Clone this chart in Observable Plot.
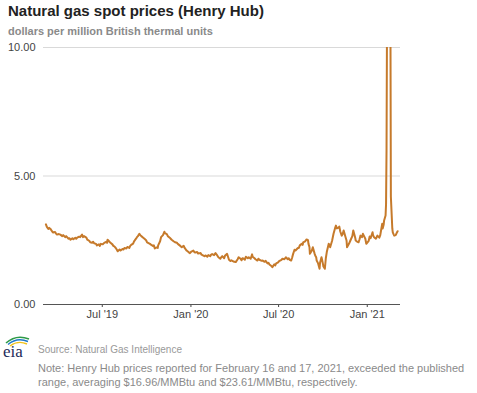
<!DOCTYPE html>
<html>
<head>
<meta charset="utf-8">
<script src="https://cdn.jsdelivr.net/npm/d3@7"></script>
<script src="https://cdn.jsdelivr.net/npm/@observablehq/plot@0.6"></script>
<style>
  body { margin: 0; background: #fff; font-family: "Liberation Sans", Arial, sans-serif; width: 477px; height: 393px; position: relative; overflow: hidden; }
  #title { position: absolute; left: 8px; top: 2px; font-size: 15px; font-weight: bold; color: #222; white-space: nowrap; }
  #subtitle { position: absolute; left: 8px; top: 25px; font-size: 11px; font-weight: bold; color: #8a8a8a; white-space: nowrap; }
  #chart { position: absolute; left: 0; top: 40px; }
  #logo { position: absolute; left: 2px; top: 333px; }
  #source { position: absolute; left: 38px; top: 344px; font-size: 10px; color: #999; white-space: nowrap; }
  #note { position: absolute; left: 38px; top: 361px; font-size: 11px; line-height: 14px; color: #8a8a8a; width: 436px; }
</style>
</head>
<body>
<div id="title">Natural gas spot prices (Henry Hub)</div>
<div id="subtitle">dollars per million British thermal units</div>
<div id="chart"></div>
<svg id="logo" width="34" height="28" viewBox="0 0 34 28">
  <path d="M4,10 Q14,1 27,6" fill="none" stroke="#2e9a48" stroke-width="1.6"/>
  <path d="M6,11.5 Q15,4 26,8.5" fill="none" stroke="#1f78c8" stroke-width="1.4"/>
  <path d="M8,13 Q16,7 25,11" fill="none" stroke="#f2c21b" stroke-width="1.4"/>
  <text x="1" y="24" font-family="'Liberation Serif', 'DejaVu Serif', serif" font-size="17" fill="#1d2a5a">eia</text>
</svg>
<div id="source">Source: Natural Gas Intelligence</div>
<div id="note">Note: Henry Hub prices reported for February 16 and 17, 2021, exceeded the published range, averaging $16.96/MMBtu and $23.61/MMBtu, respectively.</div>
<script>
const dates = [
"2019-03-06","2019-03-08","2019-03-11","2019-03-13","2019-03-15","2019-03-19","2019-03-21","2019-03-25","2019-03-27","2019-03-29",
"2019-04-02","2019-04-05","2019-04-09","2019-04-11","2019-04-15","2019-04-17","2019-04-22","2019-04-24","2019-04-26","2019-04-30",
"2019-05-02","2019-05-06","2019-05-08","2019-05-10","2019-05-14","2019-05-16","2019-05-20","2019-05-22","2019-05-24","2019-05-29","2019-05-31",
"2019-06-04","2019-06-06","2019-06-10","2019-06-12","2019-06-14","2019-06-18","2019-06-20","2019-06-24","2019-06-26","2019-06-28",
"2019-07-02","2019-07-05","2019-07-09","2019-07-11","2019-07-12","2019-07-16","2019-07-18","2019-07-22","2019-07-24","2019-07-26","2019-07-29","2019-07-31",
"2019-08-02","2019-08-06","2019-08-08","2019-08-12","2019-08-14","2019-08-16","2019-08-20","2019-08-22","2019-08-26","2019-08-28","2019-08-30",
"2019-09-03","2019-09-05","2019-09-09","2019-09-11","2019-09-13","2019-09-16","2019-09-18","2019-09-20","2019-09-24","2019-09-26","2019-09-30",
"2019-10-02","2019-10-04","2019-10-08","2019-10-10","2019-10-14","2019-10-16","2019-10-18","2019-10-22","2019-10-24","2019-10-25","2019-10-29","2019-10-31",
"2019-11-04","2019-11-07","2019-11-08","2019-11-12","2019-11-14","2019-11-18","2019-11-20","2019-11-22","2019-11-26","2019-11-29",
"2019-12-03","2019-12-04","2019-12-06","2019-12-10","2019-12-13","2019-12-17","2019-12-19","2019-12-23","2019-12-27","2019-12-30",
"2020-01-02","2020-01-06","2020-01-08","2020-01-10","2020-01-14","2020-01-16","2020-01-21","2020-01-23","2020-01-27","2020-01-29","2020-01-31",
"2020-02-04","2020-02-06","2020-02-10","2020-02-12","2020-02-14","2020-02-18","2020-02-21","2020-02-25","2020-02-27",
"2020-03-02","2020-03-04","2020-03-06","2020-03-10","2020-03-12","2020-03-16","2020-03-18","2020-03-20","2020-03-23","2020-03-25","2020-03-27","2020-03-31",
"2020-04-03","2020-04-07","2020-04-09","2020-04-13","2020-04-15","2020-04-17","2020-04-20","2020-04-22","2020-04-24","2020-04-28","2020-04-30",
"2020-05-04","2020-05-07","2020-05-08","2020-05-12","2020-05-14","2020-05-18","2020-05-20","2020-05-22","2020-05-27","2020-05-29",
"2020-06-02","2020-06-04","2020-06-08","2020-06-10","2020-06-12","2020-06-16","2020-06-18","2020-06-22","2020-06-24","2020-06-26","2020-06-30",
"2020-07-02","2020-07-07","2020-07-09","2020-07-13","2020-07-16","2020-07-20","2020-07-22","2020-07-24","2020-07-27","2020-07-29","2020-07-31",
"2020-08-03","2020-08-05","2020-08-07","2020-08-10","2020-08-12","2020-08-14","2020-08-18","2020-08-20","2020-08-21","2020-08-25","2020-08-28","2020-08-31",
"2020-09-01","2020-09-03","2020-09-04","2020-09-08","2020-09-10","2020-09-14","2020-09-15","2020-09-17","2020-09-18","2020-09-21","2020-09-24","2020-09-25","2020-09-28","2020-09-29",
"2020-10-01","2020-10-02","2020-10-05","2020-10-07","2020-10-09","2020-10-13","2020-10-15","2020-10-16","2020-10-20","2020-10-23","2020-10-26","2020-10-28","2020-10-30",
"2020-11-02","2020-11-04","2020-11-06","2020-11-09","2020-11-11","2020-11-13","2020-11-17","2020-11-19","2020-11-20","2020-11-24","2020-11-27",
"2020-12-01","2020-12-03","2020-12-07","2020-12-08","2020-12-10","2020-12-14","2020-12-16","2020-12-18","2020-12-21","2020-12-23","2020-12-28","2020-12-30",
"2021-01-04","2021-01-06","2021-01-08","2021-01-12","2021-01-13","2021-01-15","2021-01-19","2021-01-21","2021-01-22","2021-01-26","2021-01-28","2021-01-29",
"2021-02-01","2021-02-02","2021-02-04","2021-02-05","2021-02-08","2021-02-09","2021-02-10","2021-02-11","2021-02-12","2021-02-16","2021-02-17","2021-02-18","2021-02-19",
"2021-02-22","2021-02-23","2021-02-25","2021-02-26","2021-03-01","2021-03-03","2021-03-05"
];
const prices = [
3.12,3.02,2.94,2.98,2.95,2.84,2.80,2.82,2.76,2.72,
2.74,2.72,2.66,2.70,2.62,2.66,2.56,2.58,2.52,2.58,
2.54,2.60,2.56,2.60,2.64,2.62,2.72,2.62,2.66,2.60,2.52,
2.48,2.42,2.40,2.44,2.38,2.36,2.30,2.34,2.28,2.36,
2.34,2.40,2.44,2.40,2.52,2.44,2.40,2.34,2.28,2.26,2.20,2.14,
2.07,2.14,2.10,2.16,2.14,2.20,2.18,2.24,2.20,2.28,2.32,
2.37,2.46,2.56,2.62,2.66,2.75,2.70,2.66,2.60,2.57,2.50,
2.42,2.40,2.36,2.33,2.28,2.30,2.18,2.22,2.20,2.30,2.46,2.62,
2.70,2.83,2.78,2.74,2.66,2.60,2.56,2.52,2.46,2.42,
2.40,2.37,2.34,2.28,2.23,2.28,2.20,2.10,2.04,2.00,
2.06,2.10,2.04,2.02,2.04,1.98,2.00,1.94,1.90,1.88,1.91,
1.86,1.92,1.88,1.94,1.96,1.92,2.00,1.90,1.84,
1.78,1.84,1.88,1.80,1.91,1.97,1.86,1.74,1.69,1.72,1.70,1.66,
1.65,1.76,1.84,1.78,1.72,1.80,1.78,1.74,1.86,1.80,1.84,
1.78,1.95,1.86,1.80,1.76,1.71,1.78,1.74,1.70,1.71,
1.66,1.70,1.60,1.62,1.56,1.50,1.45,1.56,1.52,1.60,1.64,
1.69,1.74,1.78,1.76,1.84,1.76,1.80,1.74,1.71,1.82,1.96,
2.13,2.10,2.14,2.20,2.20,2.30,2.36,2.32,2.42,2.46,2.53,2.50,
2.36,2.24,1.97,2.10,2.23,1.96,1.91,1.84,1.71,1.60,1.39,1.62,1.84,1.76,
1.58,1.48,1.39,1.80,2.04,2.36,2.30,2.23,2.48,2.75,2.96,3.07,2.96,
2.98,3.03,2.84,2.68,2.74,2.88,2.62,2.49,2.23,2.36,2.49,
2.66,2.88,2.60,2.49,2.46,2.42,2.54,2.68,2.62,2.75,2.56,2.36,
2.48,2.65,2.58,2.81,2.70,2.62,2.56,2.64,2.68,2.60,2.70,2.81,
3.14,2.96,3.10,3.27,3.46,3.90,6.00,11.0,13.0,16.96,23.61,12.0,4.20,
2.95,2.81,2.72,2.68,2.70,2.78,2.85
];
const xTicks = ["2019-07-01","2020-01-01","2020-07-01","2021-01-01"];
const yTicks = [0, 5, 10];
const xDomain = ["2019-03-01","2021-03-11"];

const data = dates.map((d, i) => ({date: new Date(d + "T00:00:00Z"), price: prices[i]}));
const fmtX = d3.utcFormat("%b '%y");

const chart = Plot.plot({
  width: 477,
  height: 290,
  marginLeft: 43,
  marginRight: 77,
  marginTop: 7,
  marginBottom: 26,
  style: {fontFamily: "'Liberation Sans', Arial, sans-serif", fontSize: "11px", color: "#444", background: "#fff"},
  x: {type: "utc", domain: xDomain.map(d => new Date(d + "T00:00:00Z")), ticks: xTicks.map(d => new Date(d + "T00:00:00Z")), tickFormat: fmtX, tickSize: 3, tickPadding: 3, label: null},
  y: {domain: [0, 10], ticks: yTicks, tickFormat: d3.format(".2f"), tickSize: 0, tickPadding: 8, label: null},
  marks: [
    Plot.ruleY(yTicks.filter(v => v > 0), {stroke: "#d9d9d9", strokeWidth: 1.2}),
    Plot.line(data, {x: "date", y: "price", stroke: "#c67a2b", strokeWidth: 2, clip: true}),
    Plot.ruleY([0], {stroke: "#555", strokeWidth: 1.2})
  ]
});
document.getElementById("chart").appendChild(chart);
</script>
</body>
</html>
